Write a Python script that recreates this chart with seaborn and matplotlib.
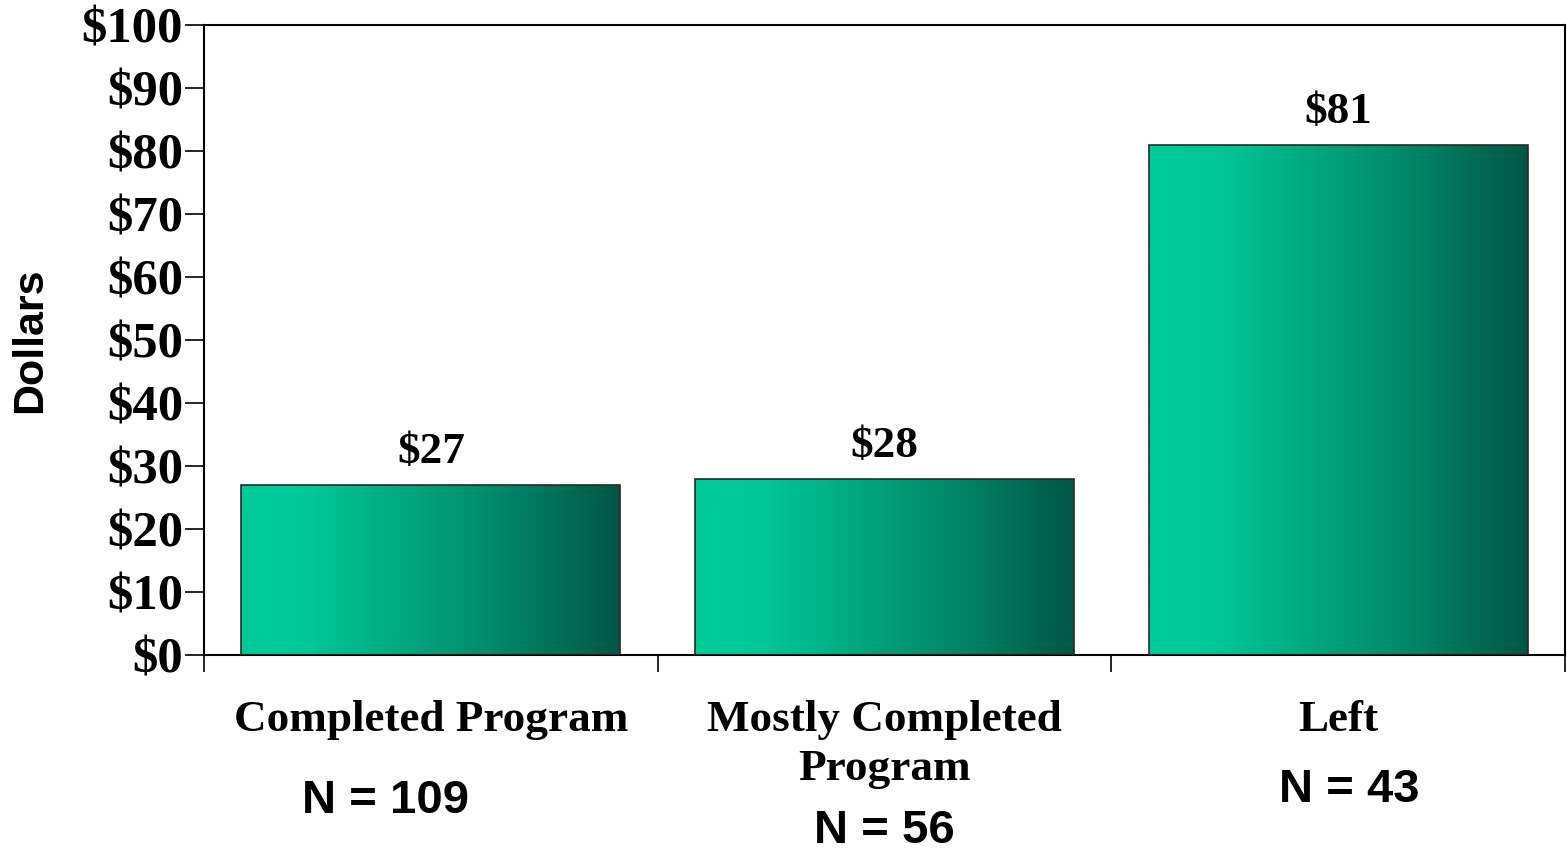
import numpy as np
import pandas as pd
import matplotlib
matplotlib.use("Agg")
import matplotlib.pyplot as plt
import seaborn as sns
from matplotlib.colors import LinearSegmentedColormap

categories = ["Completed Program", "Mostly Completed\nProgram", "Left"]
values = [27, 28, 81]
n_labels = ["N = 109", "N = 56", "N = 43"]
value_labels = ["$27", "$28", "$81"]
yticks = list(range(0, 101, 10))
ytick_labels = ["$" + str(v) for v in yticks]

sns.set_style("white")
plt.rcParams["font.family"] = ["Liberation Serif", "DejaVu Serif"]
plt.rcParams["text.color"] = "black"
plt.rcParams["axes.labelcolor"] = "black"
plt.rcParams["xtick.color"] = "black"
plt.rcParams["ytick.color"] = "black"

fig = plt.figure(figsize=(15.67, 8.52), dpi=100)
ax = fig.add_axes([0.1302, 0.2312, 0.8685, 0.7395])

df = pd.DataFrame({"cat": categories, "val": values})
sns.barplot(data=df, x="cat", y="val", ax=ax, width=0.835, color="white",
            edgecolor="#2a2a2a", linewidth=1.2, zorder=3)

cmap = LinearSegmentedColormap.from_list(
    "grad",
    [(0.0, (0.0, 0.80, 0.60)), (0.18, (0.0, 0.78, 0.59)),
     (0.65, (0.0, 0.55, 0.42)), (1.0, (0.0, 0.34, 0.27))])
grad = np.linspace(0, 1, 256).reshape(1, -1)
for p in ax.patches:
    x0, y0 = p.get_x(), p.get_y()
    w, h = p.get_width(), p.get_height()
    p.set_facecolor("none")
    im = ax.imshow(grad, cmap=cmap, aspect="auto",
                   extent=[x0, x0 + w, y0, y0 + h], zorder=2, interpolation="bilinear")
    im.set_clip_path(p)

ax.set_xlim(-0.5, 2.5)
ax.set_ylim(0, 100)
ax.set_yticks(yticks)
ax.set_yticklabels(ytick_labels, fontsize=36.5, fontweight="bold")
ax.set_xticks([-0.5, 0.5, 1.5, 2.5])
ax.set_xticklabels([])
ax.tick_params(axis="y", direction="out", length=14, width=1.2, pad=1, left=True)
ax.tick_params(axis="x", direction="out", length=12, width=1.2, bottom=True)
for s in ax.spines.values():
    s.set_visible(True)
    s.set_color("black")
    s.set_linewidth(1.5)

for i, (v, lab) in enumerate(zip(values, value_labels)):
    ax.text(i, v + 5.2, lab, ha="center", va="center", fontsize=32.5, fontweight="bold")

for i, c in enumerate(categories):
    ax.text(i, -7.2, c, ha="center", va="top", fontsize=32.5, fontweight="bold",
            linespacing=1.28, clip_on=False)

n_offsets = [-0.1, 0.0, 0.025]
n_y = [-23.2, -27.9, -21.4]
for i, n in enumerate(n_labels):
    ax.text(i + n_offsets[i], n_y[i], n, ha="center", va="center", fontsize=34,
            fontweight="bold", family=["Liberation Sans", "DejaVu Sans"], clip_on=False)

ax.set_xlabel("")
ax.set_ylabel("Dollars", fontsize=31, fontweight="bold",
              family=["Liberation Sans", "DejaVu Sans"], labelpad=23)

fig.savefig("out.png", dpi=100)
